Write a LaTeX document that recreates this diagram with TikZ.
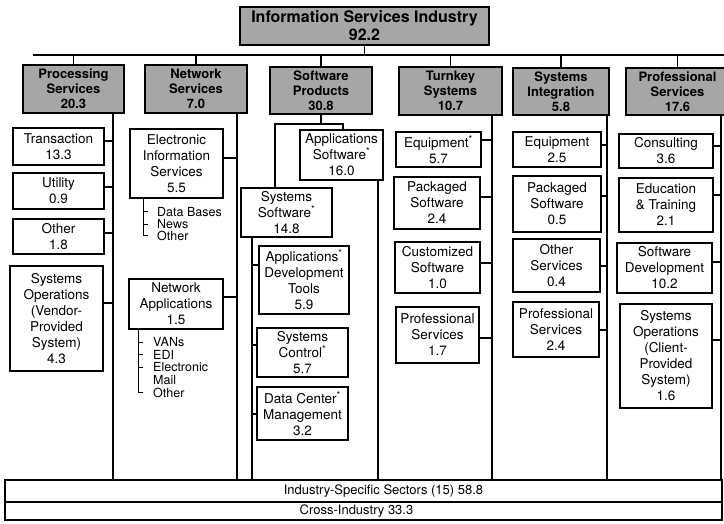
\documentclass[tikz,border=0pt]{standalone}
\usepackage{fontspec}
\setmainfont{TeX Gyre Heros}
\begin{document}
\begin{tikzpicture}[x=1pt,y=-1pt]
\tikzset{
 top/.style={draw, line width=1.4pt, fill=black!35, align=center, inner sep=0pt, font=\fontsize{16}{18}\selectfont\bfseries},
 cat/.style={draw, line width=1.3pt, fill=black!35, align=center, inner sep=0pt, font=\fontsize{13}{15}\selectfont\bfseries},
 item/.style={draw, line width=1.1pt, fill=white, align=center, inner sep=0pt, font=\fontsize{13.5}{16}\selectfont},
 trunk/.style={line width=2.2pt},
 conn/.style={line width=1.8pt},
 sub/.style={line width=1pt},
 lbl/.style={anchor=west, inner sep=0pt, font=\fontsize{12.5}{12}\selectfont},
 bar/.style={draw, line width=1.2pt, inner sep=0pt, minimum width=717pt, font=\fontsize{13}{14}\selectfont},
}
\useasboundingbox (0,0) rectangle (724,524);

% top
\node[top, minimum width=249pt, minimum height=38pt] (isi) at (364.5,26) {Information Services Industry\\92.2};
\coordinate (hlL) at (33,55);
\coordinate (hlR) at (724,55);

% categories
\node[cat, minimum width=101pt, minimum height=48pt] (proc) at (73.5,89) {Processing\\Services\\20.3};
\node[cat, minimum width=102pt, minimum height=48pt] (net) at (196,89) {Network\\Services\\7.0};
\node[cat, minimum width=102pt, minimum height=47pt] (sw) at (321,90.5) {Software\\Products\\30.8};
\node[cat, minimum width=103pt, minimum height=48pt] (tk) at (450.5,91) {Turnkey\\Systems\\10.7};
\node[cat, minimum width=96pt, minimum height=47pt] (si) at (561,91.5) {Systems\\Integration\\5.8};
\node[cat, minimum width=103pt, minimum height=47pt] (ps) at (677.5,91.5) {Professional\\Services\\17.6};

\draw[conn] (isi.south) -- (isi.south |- hlL);
\draw[conn] (hlL) -- (hlR);
\foreach \n in {proc,net,sw,tk,si,ps} \draw[conn] (\n.north) -- (\n.north |- hlL);

% trunk ends
\coordinate (pe) at (113,480);
\coordinate (ne) at (237,480);
\coordinate (ae) at (378,480);
\coordinate (sse) at (252,480);
\coordinate (te) at (492,480);
\coordinate (se) at (607,480);
\coordinate (pfe) at (721,480);

% Processing
\node[item, minimum width=91pt, minimum height=37pt] (trans) at (58.5,146.5) {Transaction\\13.3};
\node[item, minimum width=91pt, minimum height=36pt] (util) at (58.5,191) {Utility\\0.9};
\node[item, minimum width=91pt, minimum height=35pt] (poth) at (58.5,236.5) {Other\\1.8};
\node[item, minimum width=93pt, minimum height=105pt] (sysop) at (56.5,318.5) {Systems\\Operations\\(Vendor-\\Provided\\System)\\4.3};
\draw[trunk] (proc.south -| pe) -- (pe);
\draw[conn] (trans.east |- 0,141) -- (pe |- 0,141);
\draw[conn] (util.east |- 0,187) -- (pe |- 0,187);
\draw[conn] (poth.east |- 0,233) -- (pe |- 0,233);
\draw[conn] (sysop.east |- 0,303) -- (pe |- 0,303);

% Network
\node[item, minimum width=93pt, minimum height=69pt] (eis) at (176.5,163.5) {Electronic\\Information\\Services\\5.5};
\node[item, minimum width=94pt, minimum height=50pt] (napp) at (176,304) {Network\\Applications\\1.5};
\draw[trunk] (net.south -| ne) -- (ne);
\draw[conn] (eis.east |- 0,158) -- (ne |- 0,158);
\draw[conn] (napp.east |- 0,297) -- (ne |- 0,297);
\node[lbl] (db) at (157,212) {Data Bases};
\node[lbl] (news) at (157,224.5) {News};
\node[lbl] (eo) at (157,236) {Other};
\draw[sub] (eis.south -| 143,0) |- ([xshift=-9pt]eo.west);
\draw[sub] ([xshift=-9pt]db.west) -- ++(-5,0);
\draw[sub] ([xshift=-9pt]news.west) -- ++(-5,0);
\node[lbl] (vans) at (153,342) {VANs};
\node[lbl] (edi) at (153,354.5) {EDI};
\node[lbl] (em) at (153,367) {Electronic};
\node[lbl] (mail) at (153,380) {Mail};
\node[lbl] (no) at (153,392.5) {Other};
\draw[sub] (napp.south -| 138,0) |- ([xshift=-10pt]no.west);
\draw[sub] ([xshift=-10pt]vans.west) -- ++(-5,0);
\draw[sub] ([xshift=-10pt]edi.west) -- ++(-5,0);
\draw[sub] ([xshift=-10pt]em.west) -- ++(-5,0);

% Software
\node[item, minimum width=83pt, minimum height=50pt] (appsw) at (341.5,155) {Applications\\Software\textsuperscript{*}\\16.0};
\node[item, minimum width=91pt, minimum height=49pt] (syssw) at (286.5,212.5) {Systems\\Software\textsuperscript{*}\\14.8};
\node[item, minimum width=90pt, minimum height=68pt] (adt) at (304,280) {Applications\textsuperscript{*}\\Development\\Tools\\5.9};
\node[item, minimum width=91pt, minimum height=49pt] (sc) at (302.5,352.5) {Systems\\Control\textsuperscript{*}\\5.7};
\node[item, minimum width=91pt, minimum height=53pt] (dcm) at (302.5,413.5) {Data Center\textsuperscript{*}\\Management\\3.2};
\coordinate (sbl) at (275,124);
\coordinate (sbr) at (343,124);
\draw[conn] (sw.south) -- (sw.south |- sbl);
\draw[conn] (syssw.north -| sbl) -- (sbl) -- (sbr) -- (appsw.north -| sbr);
\draw[trunk] (appsw.south -| ae) -- (ae);
\draw[trunk] (syssw.south -| sse) -- (sse);
\draw[conn] (adt.west |- 0,265) -- (sse |- 0,265);
\draw[conn] (sc.west |- 0,345) -- (sse |- 0,345);
\draw[conn] (dcm.west |- 0,414) -- (sse |- 0,414);

% Turnkey
\node[item, minimum width=85pt, minimum height=35pt] (tk1) at (438.5,149.5) {Equipment\textsuperscript{*}\\5.7};
\node[item, minimum width=86pt, minimum height=52pt] (tk2) at (437,203) {Packaged\\Software\\2.4};
\node[item, minimum width=85pt, minimum height=51pt] (tk3) at (437.5,267.5) {Customized\\Software\\1.0};
\node[item, minimum width=83pt, minimum height=56pt] (tk4) at (437.5,335) {Professional\\Services\\1.7};
\draw[trunk] (tk.south -| te) -- (te);
\draw[conn] (tk1.east |- 0,140) -- (te |- 0,140);
\draw[conn] (tk2.east |- 0,197) -- (te |- 0,197);
\draw[conn] (tk3.east |- 0,263) -- (te |- 0,263);
\draw[conn] (tk4.east |- 0,338) -- (te |- 0,338);

% Systems Integration
\node[item, minimum width=88pt, minimum height=35pt] (si1) at (557,149.5) {Equipment\\2.5};
\node[item, minimum width=88pt, minimum height=56pt] (si2) at (557,204) {Packaged\\Software\\0.5};
\node[item, minimum width=87pt, minimum height=53pt] (si3) at (556.5,265.5) {Other\\Services\\0.4};
\node[item, minimum width=86pt, minimum height=55pt] (si4) at (556,329.5) {Professional\\Services\\2.4};
\draw[trunk] (si.south -| se) -- (se);
\draw[conn] (si1.east |- 0,145) -- (se |- 0,145);
\draw[conn] (si2.east |- 0,196) -- (se |- 0,196);
\draw[conn] (si3.east |- 0,266) -- (se |- 0,266);
\draw[conn] (si4.east |- 0,330) -- (se |- 0,330);

% Professional Services
\node[item, minimum width=94pt, minimum height=34pt] (p1) at (666,151) {Consulting\\3.6};
\node[item, minimum width=94pt, minimum height=54pt] (p2) at (666,205) {Education\\\& Training\\2.1};
\node[item, minimum width=95pt, minimum height=50pt] (p3) at (664.5,268) {Software\\Development\\10.2};
\node[item, minimum width=92pt, minimum height=104pt] (p4) at (666,356) {Systems\\Operations\\(Client-\\Provided\\System)\\1.6};
\draw[trunk] (ps.south -| pfe) -- (pfe);
\draw[conn] (p1.east |- 0,146) -- (pfe |- 0,146);
\draw[conn] (p2.east |- 0,195) -- (pfe |- 0,195);
\draw[conn] (p3.east |- 0,262) -- (pfe |- 0,262);
\draw[conn] (p4.east |- 0,340) -- (pfe |- 0,340);

% bottom bars
\node[bar, minimum height=22pt] (b1) at (363.5,491) {\hspace*{40pt}Industry-Specific Sectors (15) 58.8};
\node[bar, minimum height=18pt] (b2) at (363.5,511) {\hspace*{-14pt}Cross-Industry 33.3};
\end{tikzpicture}
\end{document}
